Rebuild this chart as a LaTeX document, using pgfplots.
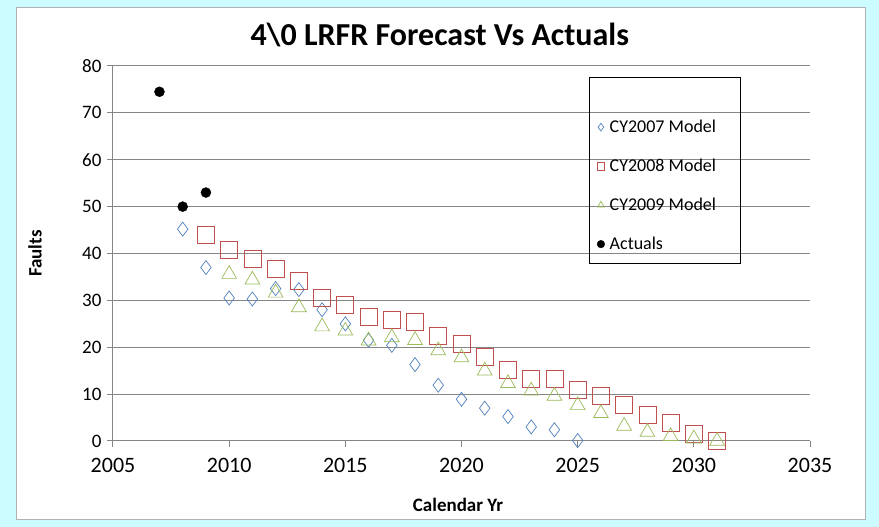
\documentclass[border=0pt]{standalone}
\usepackage{pgfplots}
\pgfplotsset{compat=1.18}
\usepackage{fontspec}
\setmainfont{Carlito}
\definecolor{bgcyan}{RGB}{204,252,255}
\definecolor{sblue}{RGB}{79,129,189}
\definecolor{sred}{RGB}{192,80,77}
\definecolor{sgreen}{RGB}{155,187,89}
\definecolor{gridgray}{RGB}{134,134,134}

\begin{document}
\begin{tikzpicture}[x=1pt,y=1pt]
\fill[bgcyan] (0,0) rectangle (879,527);
\filldraw[fill=white,draw=gray!60] (16,8) rectangle (865,520);
\begin{axis}[at={(113pt,86pt)}, anchor=south west,
scale only axis, width=697pt, height=375pt,
xmin=2005, xmax=2035, ymin=0, ymax=80,
xtick={2005,2010,...,2035}, ytick={0,10,...,80},
axis x line*=bottom, axis y line*=left,
axis line style={gridgray, line width=1pt},
ymajorgrids, grid style={gridgray, line width=1pt},
tick align=outside, major tick length=6pt,
tick style={gridgray, line width=1pt},
/pgf/number format/assume math mode=true,
x tick label style={/pgf/number format/set thousands separator={}, font=\fontsize{22}{26}\selectfont},
xticklabel shift=8pt,
y tick label style={font=\fontsize{19}{23}\selectfont},
yticklabel shift=2pt,
title={4\textbackslash 0 LRFR Forecast Vs Actuals},
title style={font=\bfseries\fontsize{32}{38}\selectfont, at={(axis description cs:0.469,1.067)}, anchor=center},
xlabel={Calendar Yr},
xlabel style={font=\bfseries\fontsize{19}{23}\selectfont, at={(axis description cs:0.495,-0.171)}, anchor=center},
ylabel={Faults},
ylabel style={font=\bfseries\fontsize{19}{23}\selectfont, at={(axis description cs:-0.112,0.5)}, anchor=center},
legend style={at={(axis description cs:0.690,0.681)}, anchor=west, draw=none, fill=none,
  font=\fontsize{18}{22}\selectfont, row sep=21pt, column sep=3pt, cells={anchor=west}},
legend image code/.code={\draw[#1] plot coordinates {(0pt,0pt)};},
legend image post style={mark size=3.8pt},
]
\addplot[only marks, mark=diamond, mark size=7pt, sblue, line width=0.7pt] coordinates {
(2008,45.2)(2009,37)(2010,30.5)(2011,30.3)(2012,32.5)(2013,32.3)(2014,28)(2015,25)
(2016,21.5)(2017,20.4)(2018,16.3)(2019,11.9)(2020,8.9)(2021,7)(2022,5.2)(2023,3)
(2024,2.4)(2025,0.1)};
\addlegendentry{CY2007 Model}
\addplot[only marks, mark=square, mark size=8.5pt, sred, line width=0.7pt] coordinates {
(2009,43.9)(2010,40.8)(2011,38.9)(2012,36.8)(2013,34.2)(2014,30.6)(2015,29)(2016,26.5)
(2017,25.9)(2018,25.4)(2019,22.5)(2020,20.7)(2021,18)(2022,15.1)(2023,13.2)(2024,13.2)
(2025,11)(2026,9.7)(2027,7.7)(2028,5.5)(2029,3.9)(2030,1.5)(2031,0)};
\addlegendentry{CY2008 Model}
\addplot[only marks, mark=triangle, mark size=8.5pt, sgreen, line width=0.7pt] coordinates {
(2010,35.6)(2011,34.4)(2012,31.6)(2013,28.5)(2014,24.4)(2015,23.5)(2016,21.4)(2017,22.1)
(2018,21.5)(2019,19.3)(2020,17.8)(2021,15)(2022,12.3)(2023,10.7)(2024,9.6)(2025,7.6)
(2026,5.9)(2027,3.2)(2028,1.9)(2029,1)(2030,0.5)(2031,0)};
\addlegendentry{CY2009 Model}
\addplot[only marks, mark=*, mark size=5pt, black] coordinates {
(2007,74.5)(2008,50)(2009,53)};
\addlegendentry{Actuals}
\draw[black, line width=1pt] (axis description cs:0.683,0.968) rectangle (axis description cs:0.901,0.472);
\end{axis}
\end{tikzpicture}
\end{document}
